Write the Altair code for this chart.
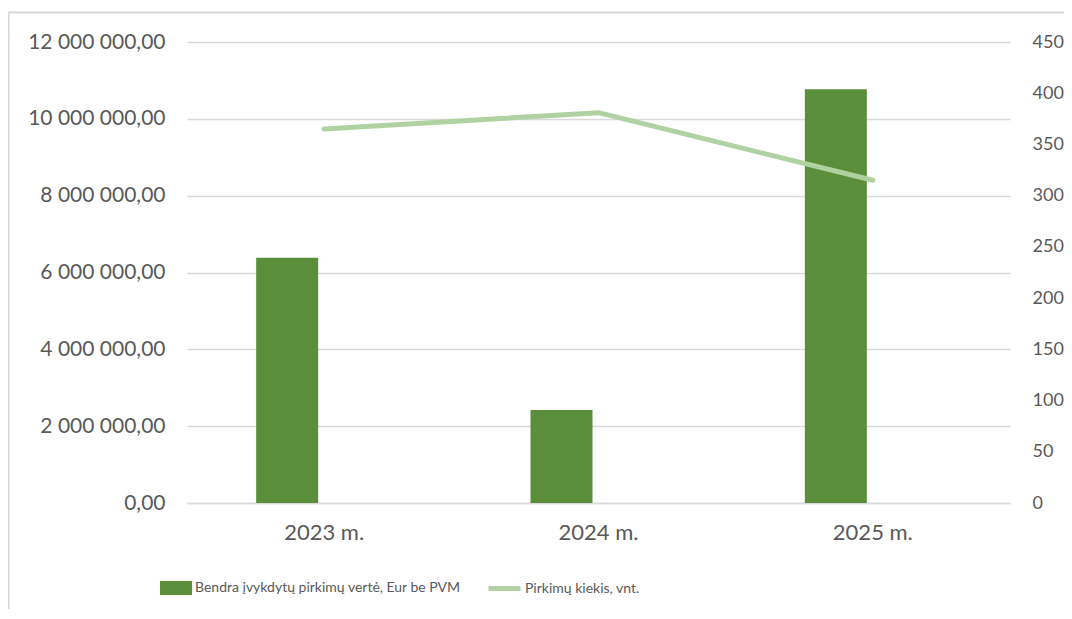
import altair as alt
import pandas as pd

years = ["2023 m.", "2024 m.", "2025 m."]
values_eur = [6385000, 2420000, 10770000]
counts = [365, 381, 315]
left_ticks = [0, 2000000, 4000000, 6000000, 8000000, 10000000, 12000000]
right_ticks = [0, 50, 100, 150, 200, 250, 300, 350, 400, 450]
bar_label = "Bendra įvykdytų pirkimų vertė, Eur be PVM"
line_label = "Pirkimų kiekis, vnt."

BAR_COLOR = "#5B8E3A"
LINE_COLOR = "#B0D2A2"
TEXT = "#595959"
GRID = "#D9D9D9"
FONT = "Lato"

df = pd.DataFrame({
    "year": years,
    "value": values_eur,
    "count": counts,
    "s1": [bar_label] * 3,
    "s2": [line_label] * 3,
})

base = alt.Chart(df)

x_enc = alt.X(
    "year:N",
    sort=years,
    title=None,
    scale=alt.Scale(paddingInner=0, paddingOuter=0),
    axis=alt.Axis(
        labelAngle=0, ticks=False, domainColor=GRID, domainWidth=1.5,
        labelColor=TEXT, labelFont=FONT, labelFontSize=22, labelPadding=19,
        grid=False,
    ),
)

bars = base.mark_bar(width=62, xOffset=-37).encode(
    x=x_enc,
    y=alt.Y(
        "value:Q",
        title=None,
        scale=alt.Scale(domain=[0, 12000000], nice=False),
        axis=alt.Axis(
            values=left_ticks, grid=True, gridColor=GRID, gridWidth=1.5,
            domain=False, ticks=False, labelColor=TEXT, labelFont=FONT,
            labelFontSize=21, labelPadding=22,
            labelExpr="replace(replace(format(datum.value, ',.2f'), regexp(',', 'g'), ' '), '.', ',')",
        ),
    ),
    fill=alt.Fill(
        "s1:N",
        scale=alt.Scale(domain=[bar_label], range=[BAR_COLOR]),
        legend=alt.Legend(
            title=None, orient="none", legendX=-27, legendY=530,
            symbolType="M-1,-0.44H1V0.44H-1Z", symbolSize=1024,
            symbolStrokeWidth=0, labelFont=FONT, labelFontSize=14,
            labelColor=TEXT, labelOffset=3, padding=0, labelLimit=0,
        ),
    ),
)

line = base.mark_line(strokeWidth=5, strokeCap="round", strokeJoin="round").encode(
    x=x_enc,
    y=alt.Y(
        "count:Q",
        title=None,
        scale=alt.Scale(domain=[0, 450], nice=False),
        axis=alt.Axis(
            orient="right", values=right_ticks, grid=False, domain=False,
            ticks=False, labelColor=TEXT, labelFont=FONT, labelFontSize=18,
            labelPadding=22,
        ),
    ),
    stroke=alt.Stroke(
        "s2:N",
        scale=alt.Scale(domain=[line_label], range=[LINE_COLOR]),
        legend=alt.Legend(
            title=None, orient="none", legendX=299, legendY=528,
            symbolType="stroke", symbolSize=1024, symbolStrokeWidth=5,
            labelFont=FONT, labelFontSize=14, labelColor=TEXT,
            labelOffset=2, padding=0, labelLimit=0,
        ),
    ),
)

border_top = base.mark_rule(color=GRID, strokeWidth=1.5).encode(
    x=alt.value(-178.5), x2=alt.value(880), y=alt.value(-29.5)
)
border_left = base.mark_rule(color=GRID, strokeWidth=1.5).encode(
    x=alt.value(-178.5), y=alt.value(-29.5), y2=alt.value(640)
)

chart = alt.layer(border_top, border_left, bars, line).resolve_scale(
    y="independent", fill="independent", stroke="independent"
).properties(
    width=823,
    height=461,
    padding={"left": 179, "top": 34, "right": 54, "bottom": 106},
    autosize=alt.AutoSizeParams(type="none"),
    background="white",
).configure_view(stroke=None)

chart.save("out.html", embed_options={"renderer": "svg", "actions": False})
